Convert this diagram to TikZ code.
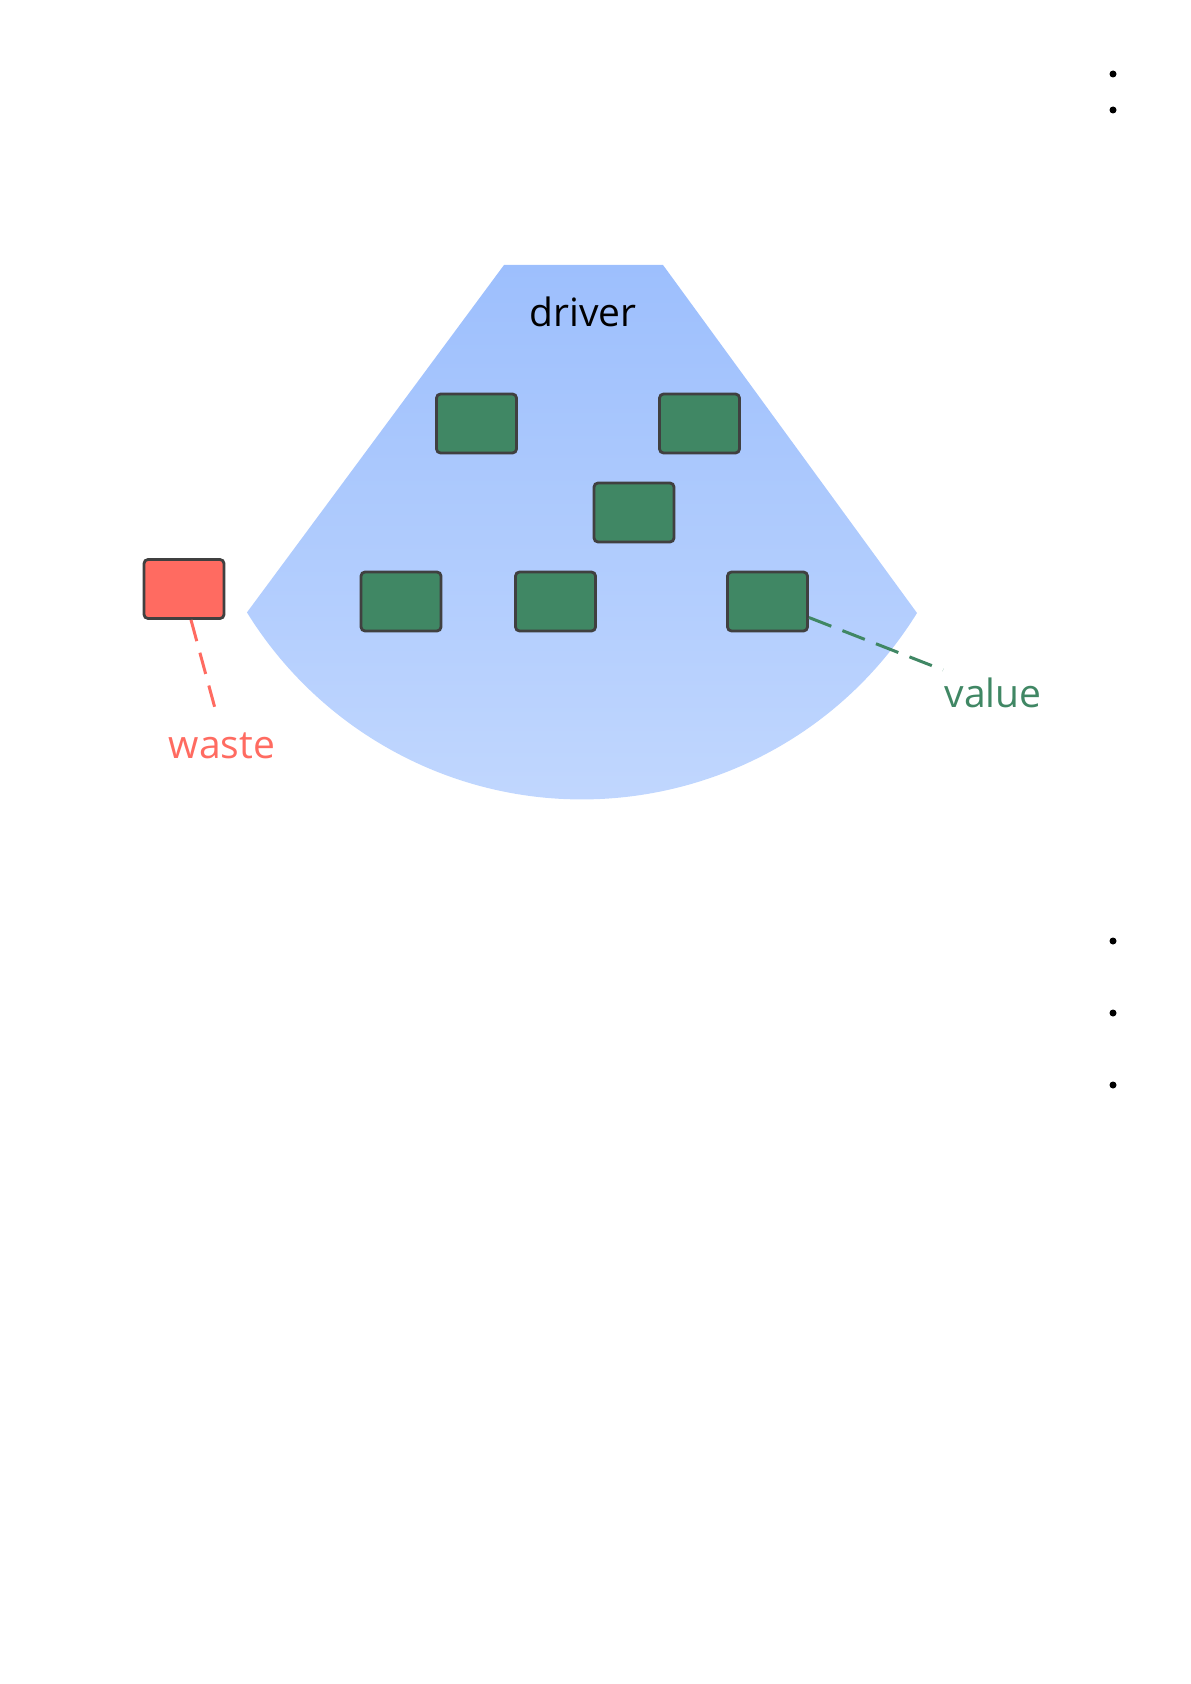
\documentclass[tikz,border=0pt]{standalone}
\usepackage{fontspec}
\setmainfont{Open Sans}
\definecolor{fanTop}{RGB}{157,191,253}
\definecolor{fanBot}{RGB}{196,217,254}
\definecolor{valgreen}{RGB}{64,135,100}
\definecolor{wastered}{RGB}{255,107,97}
\definecolor{edgegray}{RGB}{64,64,64}
\tikzset{
  box/.style={draw=edgegray, line width=1.4pt, rounded corners=2pt, minimum width=40pt, minimum height=29.5pt, inner sep=0pt},
  goodbox/.style={box, fill=valgreen},
  badbox/.style={box, fill=wastered},
  lbl/.style={font=\fontsize{19.5}{23}\selectfont, inner sep=0pt},
  dot/.style={fill=black},
}
\begin{document}
\begin{tikzpicture}[x=0.5pt,y=0.5pt]
\useasboundingbox (0,0) rectangle (1190,-1684);
% fan
\coordinate (tl) at (504,-265);
\coordinate (tr) at (663,-265);
\coordinate (br) at (917,-613);
\coordinate (bl) at (248,-613);
\shade[top color=fanTop, bottom color=fanBot] (tl) -- (tr) -- (br) arc[start angle=-31.8, end angle=-148.3, radius=394] -- cycle;
\node[lbl] (driver) at (583,-312) {driver};
% boxes
\node[goodbox] (g1) at (476.5,-423.5) {};
\node[goodbox] (g2) at (699.5,-423.5) {};
\node[goodbox] (g3) at (634,-512.5) {};
\node[goodbox] (g4) at (401,-601.5) {};
\node[goodbox] (g5) at (555.5,-601.5) {};
\node[goodbox] (g6) at (767.5,-601.5) {};
\node[badbox] (r1) at (184,-589) {};
% labels
\node[lbl, text=wastered] (waste) at (222,-746) {waste};
\node[lbl, text=valgreen] (value) at (993,-693) {value};
\coordinate (wEnd) at (216,-712);
\coordinate (vEnd) at (943,-670);
\draw[wastered, line width=1.5pt, dash pattern=on 11pt off 6pt] ([xshift=3.5pt]r1.south) -- (wEnd);
\draw[valgreen, line width=1.5pt, dash pattern=on 12pt off 6pt] ([yshift=-8pt]g6.east) -- (vEnd);
% dots
\fill[dot] (1113,-74) circle[radius=3.5];
\fill[dot] (1113,-110) circle[radius=3.5];
\fill[dot] (1113,-941) circle[radius=3.5];
\fill[dot] (1113,-1013) circle[radius=3.5];
\fill[dot] (1113,-1085) circle[radius=3.5];
\end{tikzpicture}
\end{document}
